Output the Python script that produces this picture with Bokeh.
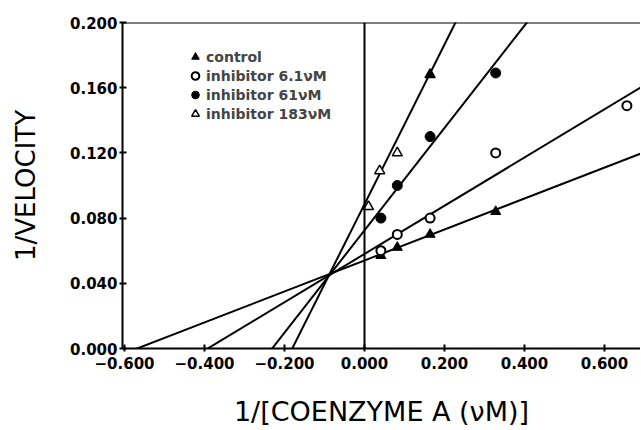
import numpy as np
from bokeh.plotting import figure
from bokeh.models import (ColumnDataSource, Span, Legend, LegendItem, FixedTicker, Range1d)
from bokeh.embed import file_html
from bokeh.resources import INLINE

# ---- data ----
ctrl_x = [0.041, 0.082, 0.164, 0.328]
ctrl_y = [0.057, 0.062, 0.070, 0.084]

inh6_x = [0.041, 0.082, 0.164, 0.328, 0.656]
inh6_y = [0.060, 0.070, 0.080, 0.120, 0.149]

inh61_x = [0.041, 0.082, 0.164, 0.328]
inh61_y = [0.080, 0.100, 0.130, 0.169]

inh183_x = [0.010, 0.038, 0.082, 0.164]
inh183_y = [0.087, 0.109, 0.120, 0.168]
inh183_filled = [False, False, False, True]

# fitted lines (slope, intercept)
line_slopes = [0.095, 0.148, 0.314, 0.490]
line_intercepts = [0.054, 0.058, 0.0725, 0.0885]

x_ticks = [-0.6, -0.4, -0.2, 0.0, 0.2, 0.4, 0.6]
x_tick_labels = ["\u22120.600", "\u22120.400", "\u22120.200", "0.000", "0.200", "0.400", "0.600"]
y_ticks = [0.0, 0.04, 0.08, 0.12, 0.16, 0.20]
y_tick_labels = ["0.000", "0.040", "0.080", "0.120", "0.160", "0.200"]

legend_labels = ["control", "inhibitor 6.1\u03bdM", "inhibitor 61\u03bdM", "inhibitor 183\u03bdM"]

p = figure(frame_width=518, frame_height=326, output_backend="svg", toolbar_location=None,
           x_range=Range1d(-0.605, 0.69), y_range=Range1d(0.0, 0.2),
           min_border_left=122, min_border_top=22, min_border_right=0, min_border_bottom=10)
p.outline_line_color = None
p.grid.visible = False
p.background_fill_color = "white"
p.border_fill_color = "white"

# axes styling
for ax in (p.xaxis[0], p.yaxis[0]):
    ax.axis_line_width = 2
    ax.axis_line_color = "black"
    ax.major_tick_line_width = 2
    ax.major_tick_in = 4
    ax.major_tick_out = 3
    ax.minor_tick_line_color = None
    ax.major_label_text_font = "DejaVu Sans"
    ax.major_label_text_font_style = "bold"
    ax.major_label_text_font_size = "15px"
    ax.major_label_text_color = "black"
    ax.axis_label_text_font = "DejaVu Sans"
    ax.axis_label_text_font_style = "normal"
    ax.axis_label_text_font_size = "26px"
    ax.axis_label_text_color = "black"

p.xaxis.axis_label_text_font_size = "27px"
p.xaxis.ticker = FixedTicker(ticks=x_ticks)
p.xaxis.major_label_overrides = {t: l for t, l in zip(x_ticks, x_tick_labels)}
p.yaxis.ticker = FixedTicker(ticks=y_ticks)
p.yaxis.major_label_overrides = {t: l for t, l in zip(y_ticks, y_tick_labels)}
p.xaxis.major_label_standoff = 5
p.yaxis.major_label_standoff = 2
p.xaxis.axis_label = "1/[COENZYME A (\u03bdM)]"
p.yaxis.axis_label = "1/VELOCITY"
p.xaxis.axis_label_standoff = 24
p.yaxis.axis_label_standoff = 26

# frame lines
p.add_layout(Span(location=0.2, dimension="width", line_color="black", line_width=2))
p.add_layout(Span(location=0.0, dimension="height", line_color="black", line_width=2))

# regression lines
xs = np.array([-0.7, 0.8])
for m, b in zip(line_slopes, line_intercepts):
    p.line(xs, m * xs + b, line_color="black", line_width=2)

# data points
r_ctrl = p.scatter(ctrl_x, ctrl_y, marker="triangle", size=10, fill_color="black", line_color="black", line_width=1)
r_6 = p.scatter(inh6_x, inh6_y, marker="circle", size=9, fill_color="white", line_color="black", line_width=2)
r_61 = p.scatter(inh61_x, inh61_y, marker="circle", size=10, fill_color="black", line_color="black", line_width=1)
src183 = ColumnDataSource(dict(x=inh183_x, y=inh183_y,
                               fc=["black" if f else "white" for f in inh183_filled]))
r_183 = p.scatter("x", "y", source=src183, marker="triangle", size=10, fill_color="fc",
                  line_color="black", line_width=1.5)

legend = Legend(items=[LegendItem(label=legend_labels[0], renderers=[r_ctrl]),
                       LegendItem(label=legend_labels[1], renderers=[r_6]),
                       LegendItem(label=legend_labels[2], renderers=[r_61]),
                       LegendItem(label=legend_labels[3], renderers=[r_183], index=0)],
                location=(62, 225), padding=0, margin=0, spacing=0,
                glyph_width=22, glyph_height=19, label_height=19, label_standoff=0,
                label_text_font="DejaVu Sans", label_text_font_style="bold",
                label_text_font_size="14px", border_line_alpha=0, background_fill_alpha=0)
p.add_layout(legend)

open("out.html", "w").write(file_html(p, INLINE))
